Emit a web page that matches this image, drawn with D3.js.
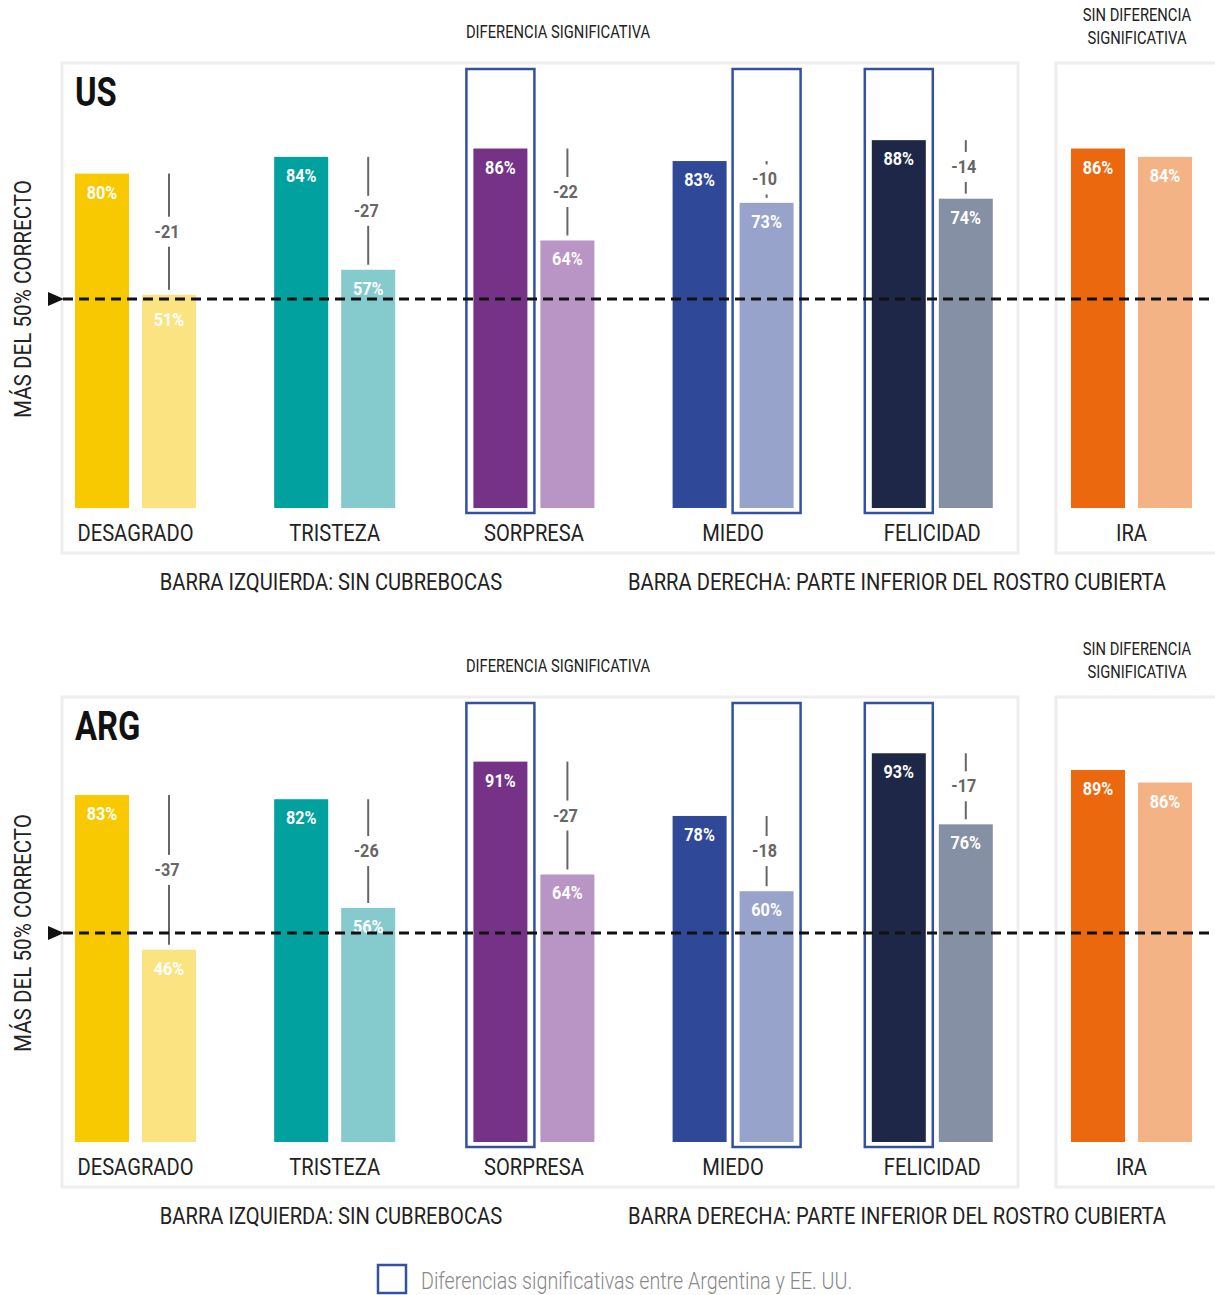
<!DOCTYPE html>
<html>
<head>
<meta charset="utf-8">
<script src="https://cdn.jsdelivr.net/npm/d3@7"></script>
<style>
  html, body { margin: 0; padding: 0; background: #fff; }
  svg text { font-family: "Roboto", "Liberation Sans", sans-serif; }
</style>
</head>
<body>
<svg id="chart" width="1215" height="1295"></svg>
<script>
// Emotion categories, in drawing order
const emotions = ["DESAGRADO", "TRISTEZA", "SORPRESA", "MIEDO", "FELICIDAD", "IRA"];

// Percent correct: left bar = no mask, right bar = lower face covered
const usUnmasked  = [80, 84, 86, 83, 88, 86];
const usMasked    = [51, 57, 64, 73, 74, 84];
const argUnmasked = [83, 82, 91, 78, 93, 89];
const argMasked   = [46, 56, 64, 60, 76, 86];

// Printed drop labels (first five emotions)
const usDropLabels  = ["-21", "-27", "-22", "-10", "-14"];
const argDropLabels = ["-37", "-26", "-27", "-18", "-17"];

// Bars that differ significantly between Argentina and the US: [emotion index, bar side]
const highlighted = [[2, 0], [3, 1], [4, 0]];

const threshold = 50;

const darkColors  = ["#f9c900", "#00a19f", "#753287", "#2f4898", "#1f2748", "#eb680f"];
const lightColors = ["#fce381", "#85cacd", "#b995c5", "#97a3cb", "#8690a5", "#f4b384"];
const hlColor = "#3450a0";

const svg = d3.select("#chart");

// Condensed look: narrow each text horizontally around its anchor x
function squeeze(sel, k) {
  sel.each(function () {
    const t = d3.select(this);
    const x = +t.attr("x") || 0;
    const prev = t.attr("transform") || "";
    t.attr("transform", `${prev} translate(${x},0) scale(${k},1) translate(${-x},0)`);
  });
  return sel;
}

const x0 = d3.scaleBand().domain(emotions).range([75, 1192]).paddingInner(0.3926).paddingOuter(0);
const x1 = d3.scaleBand().domain([0, 1]).range([0, x0.bandwidth()]).paddingInner(0.194).paddingOuter(0);

function drawPanel(top, title, unmasked, masked, dropLabels) {
  const g = svg.append("g").attr("transform", `translate(0,${top})`);
  const baseline = 445;
  const y = d3.scaleLinear().domain([0, 100]).range([baseline, baseline - 418]);
  const yT = y(threshold);

  // headers above the boxes
  const hdr = [
    [558, -25, "DIFERENCIA SIGNIFICATIVA"],
    [1137, -42, "SIN DIFERENCIA"],
    [1137, -19, "SIGNIFICATIVA"]
  ];
  hdr.forEach(([hx, hy, t]) => {
    squeeze(g.append("text").attr("x", hx).attr("y", hy).attr("text-anchor", "middle")
      .attr("font-size", 18).attr("font-weight", 400).attr("fill", "#222").text(t), 0.82);
  });

  // panel frames
  g.append("rect").attr("x", 62).attr("y", 0).attr("width", 956).attr("height", 490)
    .attr("fill", "none").attr("stroke", "#eeeeee").attr("stroke-width", 3);
  g.append("rect").attr("x", 1056).attr("y", 0).attr("width", 200).attr("height", 490)
    .attr("fill", "none").attr("stroke", "#eeeeee").attr("stroke-width", 3);

  squeeze(g.append("text").attr("x", 75).attr("y", 43).attr("font-size", 40).attr("font-weight", "bold")
    .attr("fill", "#111").text(title), 0.82);

  // highlight frames
  highlighted.forEach(([i, side]) => {
    const bx = x0(emotions[i]) + x1(side);
    g.append("rect").attr("x", bx - 7).attr("y", 6)
      .attr("width", x1.bandwidth() + 14).attr("height", baseline + 5 - 6)
      .attr("fill", "none").attr("stroke", hlColor).attr("stroke-width", 2.5);
  });

  // bars
  const rows = emotions.map((e, i) => ({ e, i, vals: [unmasked[i], masked[i]] }));
  const grp = g.selectAll(".grp").data(rows).join("g").attr("class", "grp")
    .attr("transform", d => `translate(${x0(d.e)},0)`);

  grp.selectAll("rect").data(d => d.vals.map((v, s) => ({ v, s, i: d.i })))
    .join("rect")
    .attr("x", d => x1(d.s)).attr("width", x1.bandwidth())
    .attr("y", d => y(d.v)).attr("height", d => baseline - y(d.v))
    .attr("fill", d => d.s === 0 ? darkColors[d.i] : lightColors[d.i]);

  // value labels inside the bar top; a bar ending right at the 50% line gets its label below the line
  squeeze(grp.selectAll("text.val").data(d => d.vals.map((v, s) => ({ v, s, i: d.i })))
    .join("text").attr("class", "val")
    .attr("x", d => x1(d.s) + x1.bandwidth() / 2)
    .attr("y", d => (d.v - threshold < 3 && d.v >= threshold) ? yT + 27 : y(d.v) + 25)
    .attr("text-anchor", "middle").attr("font-size", 18).attr("font-weight", "bold")
    .attr("fill", "#fff").text(d => d.v + "%"), 0.9);

  squeeze(grp.append("text").attr("x", x0.bandwidth() / 2).attr("y", baseline + 33)
    .attr("text-anchor", "middle").attr("font-size", 24).attr("font-weight", 400).attr("fill", "#222")
    .text(d => d.e), 0.84);

  // drop markers: vertical line from unmasked level to masked level with the drop printed in the middle
  dropLabels.forEach((lab, i) => {
    const cx = x0(emotions[i]) + x1(1) + x1.bandwidth() / 2;
    const yTop = y(unmasked[i]);
    const yBot = y(masked[i]) - 5;
    const mid = (yTop + yBot) / 2;
    const gap = 15;
    g.append("line").attr("x1", cx).attr("x2", cx).attr("y1", yTop).attr("y2", mid - gap)
      .attr("stroke", "#666").attr("stroke-width", 2);
    g.append("line").attr("x1", cx).attr("x2", cx).attr("y1", mid + gap).attr("y2", yBot)
      .attr("stroke", "#666").attr("stroke-width", 2);
    squeeze(g.append("text").attr("x", cx - 2).attr("y", mid + 6).attr("text-anchor", "middle")
      .attr("font-size", 18).attr("font-weight", "bold").attr("fill", "#666").text(lab), 0.9);
  });

  // 50% reference line with arrow
  g.append("line").attr("x1", 63).attr("x2", 1215).attr("y1", yT).attr("y2", yT)
    .attr("stroke", "#111").attr("stroke-width", 3).attr("stroke-dasharray", "10,6");
  g.append("path").attr("d", `M48,${yT - 7}L64,${yT}L48,${yT + 7}Z`).attr("fill", "#111");
  squeeze(g.append("text").attr("transform", `translate(31,${yT}) rotate(-90)`)
    .attr("text-anchor", "middle").attr("font-size", 24).attr("font-weight", 400).attr("fill", "#222")
    .text("MÁS DEL 50% CORRECTO"), 0.86);

  // footers
  squeeze(g.append("text").attr("x", 331).attr("y", 527).attr("text-anchor", "middle")
    .attr("font-size", 24).attr("font-weight", 400).attr("fill", "#222")
    .text("BARRA IZQUIERDA: SIN CUBREBOCAS"), 0.84);
  squeeze(g.append("text").attr("x", 897).attr("y", 527).attr("text-anchor", "middle")
    .attr("font-size", 24).attr("font-weight", 400).attr("fill", "#222")
    .text("BARRA DERECHA: PARTE INFERIOR DEL ROSTRO CUBIERTA"), 0.84);
}

drawPanel(63, "US", usUnmasked, usMasked, usDropLabels);
drawPanel(697, "ARG", argUnmasked, argMasked, argDropLabels);

// legend
svg.append("rect").attr("x", 378).attr("y", 1265).attr("width", 28).attr("height", 28)
  .attr("fill", "none").attr("stroke", hlColor).attr("stroke-width", 2.5);
squeeze(svg.append("text").attr("x", 421).attr("y", 1289).attr("font-size", 24).attr("font-weight", 300)
  .attr("fill", "#888").text("Diferencias significativas entre Argentina y EE. UU."), 0.82);
</script>
</body>
</html>
